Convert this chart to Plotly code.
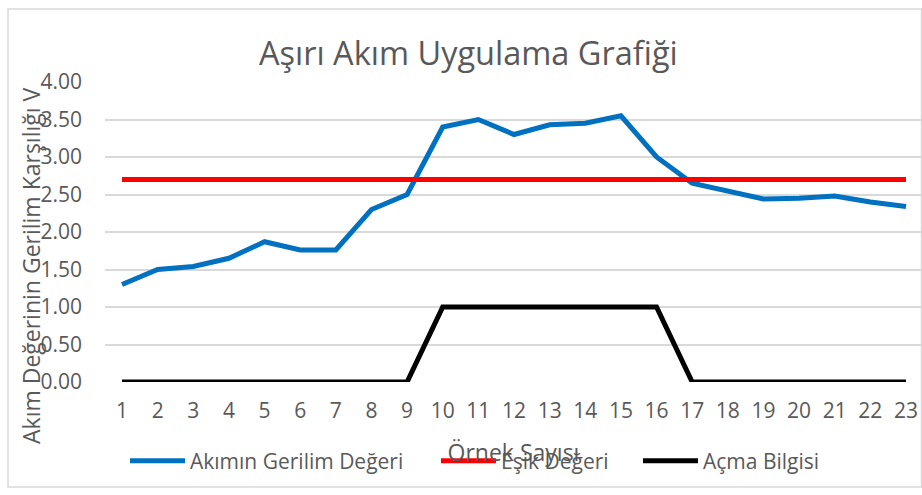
import plotly.graph_objects as go

# Sample index (category axis)
samples = list(range(1, 24))

# Measured current converted to voltage (V)
akim_gerilim = [1.30, 1.50, 1.54, 1.65, 1.87, 1.76, 1.76, 2.30, 2.50, 3.40,
                3.50, 3.30, 3.43, 3.45, 3.55, 3.00, 2.65, 2.54, 2.44, 2.45,
                2.48, 2.40, 2.34]

# Threshold level (V)
esik = [2.70] * 23

# Trip signal (0 = closed, 1 = tripped)
acma = [0, 0, 0, 0, 0, 0, 0, 0, 0, 1, 1, 1, 1, 1, 1, 1, 0, 0, 0, 0, 0, 0, 0]

y_ticks = [0, 0.5, 1.0, 1.5, 2.0, 2.5, 3.0, 3.5, 4.0]

FONT = "Open Sans"
GRAY = "#595959"

# Plot area in pixels
PL, PR, PT, PB = 105, 922, 82, 382
PW, PH = PR - PL, PB - PT


def px_x(p):
    return (p - PL) / PW


def px_y(p):
    return (PB - p) / PH


fig = go.Figure()
fig.add_trace(go.Scatter(x=samples, y=akim_gerilim, mode="lines",
                         name="Akımın Gerilim Değeri", legend="legend",
                         showlegend=True,
                         line=dict(color="#0070C0", width=5)))
fig.add_trace(go.Scatter(x=samples, y=esik, mode="lines",
                         name="Eşik Değeri", legend="legend2",
                         showlegend=True,
                         line=dict(color="#FF0000", width=5)))
fig.add_trace(go.Scatter(x=samples, y=acma, mode="lines",
                         name="Açma Bilgisi", legend="legend3",
                         showlegend=True,
                         line=dict(color="#000000", width=5)))

legend_common = dict(orientation="h", xanchor="left",
                     y=px_y(461), yanchor="middle",
                     font=dict(family=FONT, size=21, color=GRAY),
                     itemwidth=55, bgcolor="rgba(0,0,0,0)")

fig.update_layout(
    width=922, height=495,
    showlegend=True,
    margin=dict(l=PL, r=922 - PR, t=PT, b=495 - PB),
    paper_bgcolor="white", plot_bgcolor="white",
    font=dict(family=FONT, size=21, color=GRAY),
    title=dict(text="Aşırı Akım Uygulama Grafiği",
               font=dict(family=FONT, size=32.5, color=GRAY),
               x=0.508, xanchor="center", y=1 - 54 / 495, yanchor="middle"),
    xaxis=dict(range=[0.523, 23.449], tickmode="array", tickvals=samples,
               ticktext=[str(s) for s in samples], showgrid=False,
               zeroline=False, showline=False, ticks="",
               ticklabelstandoff=14,
               tickfont=dict(size=21, color=GRAY),
               title=dict(text="Örnek Sayısı", standoff=21,
                          font=dict(size=23, color=GRAY))),
    yaxis=dict(range=[0, 4], tickvals=y_ticks, tickformat=".2f",
               showgrid=True, gridcolor="#D9D9D9", gridwidth=1.5,
               zeroline=False, showline=False, ticks="",
               ticklabelstandoff=22,
               tickfont=dict(size=21, color=GRAY)),
    legend=dict(x=px_x(125), **legend_common),
    legend2=dict(x=px_x(436), **legend_common),
    legend3=dict(x=px_x(638), **legend_common),
)

# Y-axis title, placed as a rotated annotation
fig.add_annotation(text="Akım Değerinin Gerilim Karşılığı V",
                   textangle=-90, xref="paper", yref="paper",
                   x=px_x(31), y=px_y(266),
                   xanchor="center", yanchor="middle", showarrow=False,
                   font=dict(family=FONT, size=23, color=GRAY))

# Chart area border
fig.add_shape(type="rect", xref="paper", yref="paper",
              x0=px_x(8), x1=px_x(921.5), y0=px_y(487), y1=px_y(9),
              line=dict(color="#D9D9D9", width=1.5), layer="below")

fig.write_html("out.html")
